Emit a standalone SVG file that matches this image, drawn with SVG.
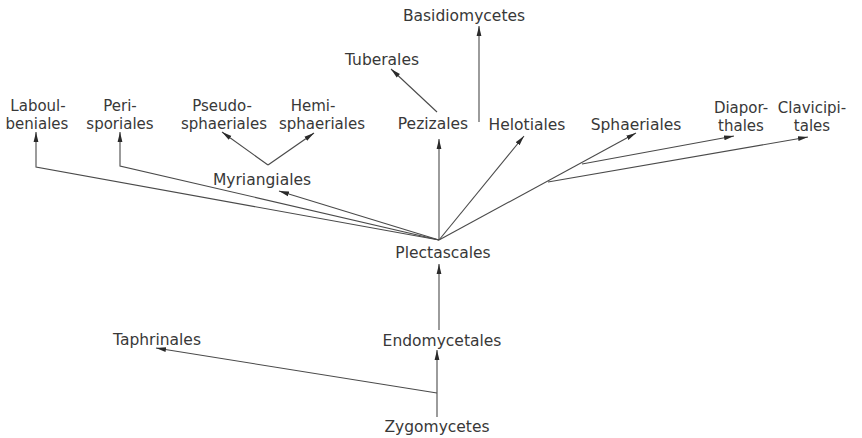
<svg xmlns="http://www.w3.org/2000/svg" width="862" height="438" viewBox="0 0 862 438">
<style>
  text { font-family: "DejaVu Sans", "Liberation Sans", sans-serif; font-size: 15.5px; fill: #383838; text-anchor: middle; }
  .two text { font-size: 15px; }
  .c { fill: none; stroke: #4a4a4a; stroke-width: 1.1; marker-end: url(#ah); }
</style>
<defs>
  <marker id="ah" markerUnits="userSpaceOnUse" markerWidth="10" markerHeight="6" refX="10" refY="3" orient="auto">
    <path d="M0,0.6 L10,3 L0,5.4 z" fill="#2a2a2a"/>
  </marker>
</defs>
<rect width="862" height="438" fill="#ffffff"/>
<g id="connectors">
  <polyline class="c" points="439,240 36,167 36,132"/>
  <polyline class="c" points="439,240 120,166 120,132"/>
  <line class="c" x1="439" y1="240" x2="279" y2="191"/>
  <line class="c" x1="268" y1="165" x2="222" y2="132"/>
  <line class="c" x1="268" y1="165" x2="314" y2="133"/>
  <line class="c" x1="439" y1="240" x2="439" y2="139"/>
  <line class="c" x1="437" y1="112" x2="391" y2="69"/>
  <line class="c" x1="479" y1="122" x2="479" y2="26"/>
  <line class="c" x1="439" y1="240" x2="524" y2="136"/>
  <line class="c" x1="439" y1="240" x2="636" y2="133"/>
  <line class="c" x1="582" y1="164" x2="734" y2="136"/>
  <line class="c" x1="548" y1="182" x2="808" y2="137"/>
  <line class="c" x1="439" y1="330" x2="439" y2="264"/>
  <line class="c" x1="437" y1="417" x2="437" y2="350"/>
  <line class="c" x1="437" y1="393" x2="156" y2="348"/>
</g>
<g id="basidiomycetes"><text x="464" y="21">Basidiomycetes</text></g>
<g id="tuberales"><text x="382" y="65">Tuberales</text></g>
<g id="laboulbeniales" class="two"><text x="38" y="111">Laboul-</text><text x="37" y="128.5">beniales</text></g>
<g id="perisporiales" class="two"><text x="120" y="111">Peri-</text><text x="120" y="128.5">sporiales</text></g>
<g id="pseudosphaeriales" class="two"><text x="222" y="111">Pseudo-</text><text x="224" y="128.5">sphaeriales</text></g>
<g id="hemisphaeriales" class="two"><text x="313" y="111">Hemi-</text><text x="322" y="128.5">sphaeriales</text></g>
<g id="pezizales"><text x="433" y="129">Pezizales</text></g>
<g id="helotiales"><text x="527" y="130">Helotiales</text></g>
<g id="sphaeriales"><text x="636" y="130">Sphaeriales</text></g>
<g id="diaporthales" class="two"><text x="741" y="113">Diapor-</text><text x="741" y="130.5">thales</text></g>
<g id="clavicipitales" class="two"><text x="812" y="113">Clavicipi-</text><text x="812" y="130.5">tales</text></g>
<g id="myriangiales"><text x="262" y="185">Myriangiales</text></g>
<g id="plectascales"><text x="443" y="258">Plectascales</text></g>
<g id="taphrinales"><text x="157" y="345">Taphrinales</text></g>
<g id="endomycetales"><text x="442" y="346">Endomycetales</text></g>
<g id="zygomycetes"><text x="437" y="432">Zygomycetes</text></g>
</svg>
